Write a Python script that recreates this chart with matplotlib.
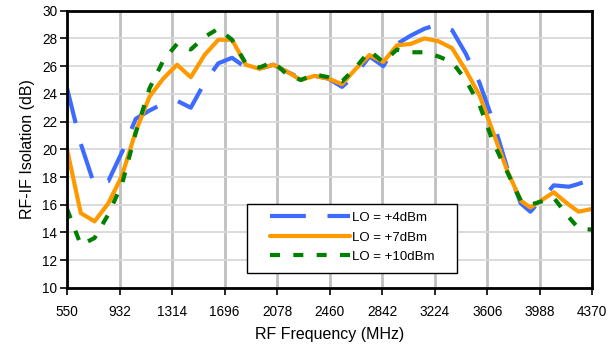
import numpy as np
import matplotlib
matplotlib.use("Agg")
import matplotlib.pyplot as plt
from matplotlib.patches import Rectangle

plt.rcParams['font.family'] = ['Liberation Sans', 'DejaVu Sans']

# RF frequency points (MHz)
freq = [550, 650, 750, 850, 950, 1050, 1150, 1250, 1350, 1450,
        1550, 1650, 1750, 1850, 1950, 2050, 2150, 2250, 2350, 2450,
        2550, 2650, 2750, 2850, 2950, 3050, 3150, 3250, 3350, 3450,
        3550, 3650, 3750, 3850, 3920, 4090, 4200, 4270, 4370]

# RF-IF isolation (dB) for each LO drive
iso_lo4 = [24.4, 20.4, 17.4, 17.7, 19.8, 22.2, 22.8, 23.3, 23.5, 23.0,
           24.8, 26.2, 26.6, 25.9, 25.8, 26.1, 25.6, 25.1, 25.3, 25.1,
           24.5, 25.4, 26.7, 26.0, 27.6, 28.2, 28.7, 29.0, 28.6, 26.9,
           24.8, 22.0, 18.7, 16.1, 15.5, 17.4, 17.3, 17.5, 17.85]
iso_lo7 = [20.0, 15.4, 14.8, 16.1, 18.1, 21.3, 23.8, 25.1, 26.1, 25.2,
           26.8, 27.9, 27.9, 26.1, 25.8, 26.1, 25.6, 25.0, 25.3, 25.1,
           24.7, 25.8, 26.8, 26.3, 27.5, 27.6, 28.0, 27.8, 27.3, 25.7,
           23.9, 21.2, 18.5, 16.3, 15.8, 16.9, 16.0, 15.5, 15.7]
iso_lo10 = [15.7, 13.1, 13.6, 15.3, 17.5, 21.2, 24.4, 26.4, 27.6, 27.2,
            28.1, 28.7, 27.9, 26.2, 25.9, 26.3, 25.4, 25.0, 25.4, 25.2,
            24.9, 25.9, 27.1, 26.3, 27.2, 27.0, 27.0, 26.7, 26.3, 25.0,
            23.2, 20.5, 18.4, 16.3, 16.0, 16.5, 15.1, 14.3, 14.2]

labels = ['LO = +4dBm', 'LO = +7dBm', 'LO = +10dBm']
xticks = [550, 932, 1314, 1696, 2078, 2460, 2842, 3224, 3606, 3988, 4370]
yticks = list(range(10, 31, 2))

fig = plt.figure(figsize=(6.15, 3.44), dpi=100)
ax = fig.add_axes([0.109, 0.163, 0.854, 0.806])

ax.plot(freq, iso_lo4, color='#3d6bff', lw=3, dashes=(8.6, 5.2),
        solid_joinstyle='round', label=labels[0])
ax.plot(freq, iso_lo7, color='#ff9900', lw=3, solid_capstyle='round',
        solid_joinstyle='round', label=labels[1])
ax.plot(freq, iso_lo10, color='#008000', lw=3, dashes=(2.4, 3.2),
        label=labels[2])

ax.set_xlim(550, 4370)
ax.set_ylim(10, 30)
ax.set_xticks(xticks)
ax.set_yticks(yticks)
ax.tick_params(labelsize=9.8, length=5, width=1.2, direction='out')
ax.tick_params(axis='x', pad=7)
ax.tick_params(axis='y', pad=2)
ax.grid(axis='x', color='#c0c0c0', lw=2)
ax.grid(axis='y', color='#d9d9d9', lw=1.3)
ax.set_axisbelow(True)
for s in ax.spines.values():
    s.set_linewidth(2)

ax.set_xlabel('RF Frequency (MHz)', fontsize=11.5, labelpad=6)
ax.set_ylabel('RF-IF Isolation (dB)', fontsize=11.5, labelpad=5)

# legend box drawn separately so the handles sit further inside
box = Rectangle((0.343, 0.054), 0.4, 0.249, transform=ax.transAxes,
                facecolor='white', edgecolor='black', lw=1, zorder=4)
ax.add_patch(box)
leg = ax.legend(loc='center left', bbox_to_anchor=(0.386, 0.182),
                fontsize=9.5, handlelength=6.1, handletextpad=0.15,
                frameon=False, borderpad=0, labelspacing=0.55,
                borderaxespad=0)
leg.set_zorder(5)

fig.savefig('out.png', dpi=100)
